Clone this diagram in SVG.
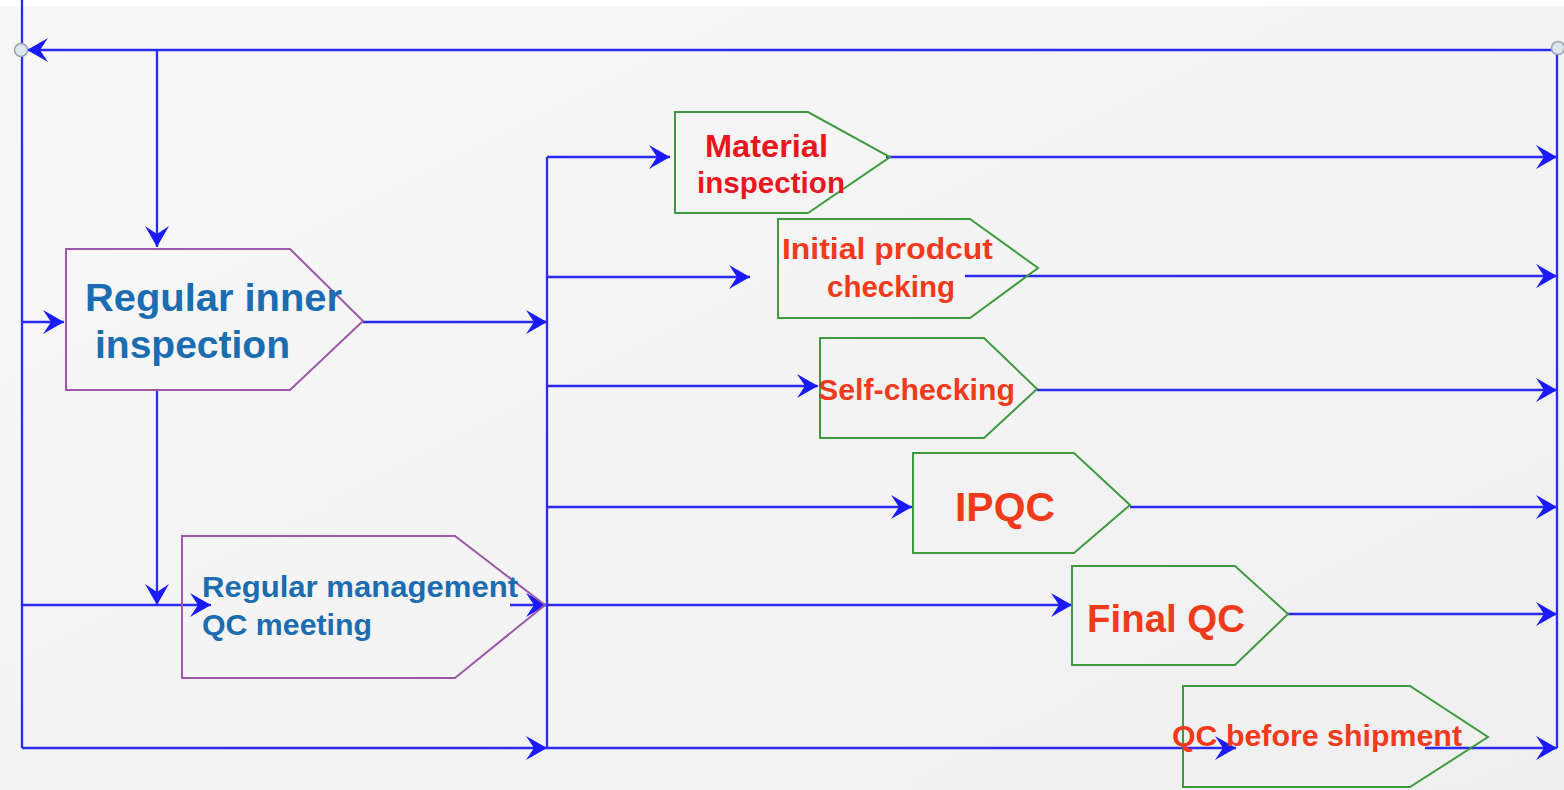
<svg xmlns="http://www.w3.org/2000/svg" width="1564" height="790" viewBox="0 0 1564 790">
<defs>
<linearGradient id="bg" x1="0" y1="0" x2="1" y2="1">
<stop offset="0" stop-color="#f8f8f8"/>
<stop offset="1" stop-color="#efefef"/>
</linearGradient>
<marker id="ah" viewBox="-24 -14 26 28" refX="0" refY="0" markerWidth="26" markerHeight="28" markerUnits="userSpaceOnUse" orient="auto">
<path d="M-21,-12 L0,0 L-21,12 L-13,0 Z" fill="#1a1aff"/>
</marker>
<style>
.ln{fill:none;stroke:#2a2af0;stroke-width:2.3}
.pb{fill:none;stroke:#9b59a8;stroke-width:2}
.pg{fill:none;stroke:#3f9a3f;stroke-width:2}
.tb{font-family:"Liberation Sans",Arial,sans-serif;font-weight:bold;fill:#1b6cb0}
.tr{font-family:"Liberation Sans",Arial,sans-serif;font-weight:bold;fill:#f03a1c}
.tr2{font-family:"Liberation Sans",Arial,sans-serif;font-weight:bold;fill:#e8161e}
.dot{fill:#dde6ee;stroke:#9aa4ac;stroke-width:1.5}
</style>
</defs>
<rect x="0" y="0" width="1564" height="790" fill="url(#bg)"/>
<rect x="0" y="0" width="1564" height="6" fill="#ffffff"/>

<g id="connectors">
<path class="ln" d="M22,0 V748"/>
<path class="ln" d="M1557,48 V748"/>
<path class="ln" d="M1557,50 H27" marker-end="url(#ah)"/>
<path class="ln" d="M157,50 V247" marker-end="url(#ah)"/>
<path class="ln" d="M157,390 V605" marker-end="url(#ah)"/>
<path class="ln" d="M22,322 H64" marker-end="url(#ah)"/>
<path class="ln" d="M363,322 H547" marker-end="url(#ah)"/>
<path class="ln" d="M22,605 H211" marker-end="url(#ah)"/>
<path class="ln" d="M510,605 H547" marker-end="url(#ah)"/>
<path class="ln" d="M22,748 H547" marker-end="url(#ah)"/>
<path class="ln" d="M547,157 V748"/>
<path class="ln" d="M547,157 H670" marker-end="url(#ah)"/>
<path class="ln" d="M547,277 H750" marker-end="url(#ah)"/>
<path class="ln" d="M547,386 H818" marker-end="url(#ah)"/>
<path class="ln" d="M547,507 H912" marker-end="url(#ah)"/>
<path class="ln" d="M547,605 H1072" marker-end="url(#ah)"/>
<path class="ln" d="M547,748 H1236" marker-end="url(#ah)"/>
<path class="ln" d="M886,157 H1557" marker-end="url(#ah)"/>
<path class="ln" d="M965,276 H1557" marker-end="url(#ah)"/>
<path class="ln" d="M1037,390 H1557" marker-end="url(#ah)"/>
<path class="ln" d="M1130,507 H1557" marker-end="url(#ah)"/>
<path class="ln" d="M1288,614 H1557" marker-end="url(#ah)"/>
<path class="ln" d="M1425,748 H1557" marker-end="url(#ah)"/>
<circle class="dot" cx="21" cy="50" r="6.5"/>
<circle class="dot" cx="1558" cy="48" r="6.5"/>
</g>

<g id="regular-inner-inspection">
<polygon class="pb" points="66,249 290,249 363,321 290,390 66,390"/>
<text class="tb" x="85" y="311" font-size="39" textLength="257" lengthAdjust="spacingAndGlyphs">Regular inner</text>
<text class="tb" x="95" y="358" font-size="39" textLength="195" lengthAdjust="spacingAndGlyphs">inspection</text>
</g>

<g id="regular-management-qc-meeting">
<polygon class="pb" points="182,536 455,536 545,605 455,678 182,678"/>
<text class="tb" x="202" y="597" font-size="30" textLength="316" lengthAdjust="spacingAndGlyphs">Regular management</text>
<text class="tb" x="202" y="635" font-size="30" textLength="170" lengthAdjust="spacingAndGlyphs">QC meeting</text>
</g>

<g id="material-inspection">
<polygon class="pg" points="675,112 808,112 890,157 808,213 675,213"/>
<text class="tr2" x="705" y="157" font-size="31" textLength="123" lengthAdjust="spacingAndGlyphs">Material</text>
<text class="tr2" x="697" y="193" font-size="30" textLength="148" lengthAdjust="spacingAndGlyphs">inspection</text>
</g>

<g id="initial-product-checking">
<polygon class="pg" points="778,219 970,219 1038,268 970,318 778,318"/>
<text class="tr" x="782" y="259" font-size="30" textLength="211" lengthAdjust="spacingAndGlyphs">Initial prodcut</text>
<text class="tr" x="827" y="297" font-size="30" textLength="128" lengthAdjust="spacingAndGlyphs">checking</text>
</g>

<g id="self-checking">
<polygon class="pg" points="820,338 984,338 1037,389 984,438 820,438"/>
<text class="tr" x="818" y="400" font-size="30" textLength="197" lengthAdjust="spacingAndGlyphs">Self-checking</text>
</g>

<g id="ipqc">
<polygon class="pg" points="913,453 1074,453 1130,505 1074,553 913,553"/>
<text class="tr" x="955" y="521" font-size="41" textLength="100" lengthAdjust="spacingAndGlyphs">IPQC</text>
</g>

<g id="final-qc">
<polygon class="pg" points="1072,566 1235,566 1288,614 1235,665 1072,665"/>
<text class="tr" x="1087" y="632" font-size="39" textLength="158" lengthAdjust="spacingAndGlyphs">Final QC</text>
</g>

<g id="qc-before-shipment">
<polygon class="pg" points="1183,686 1410,686 1488,737 1410,787 1183,787"/>
<text class="tr" x="1172" y="746" font-size="30" textLength="290" lengthAdjust="spacingAndGlyphs">QC before shipment</text>
</g>
</svg>
